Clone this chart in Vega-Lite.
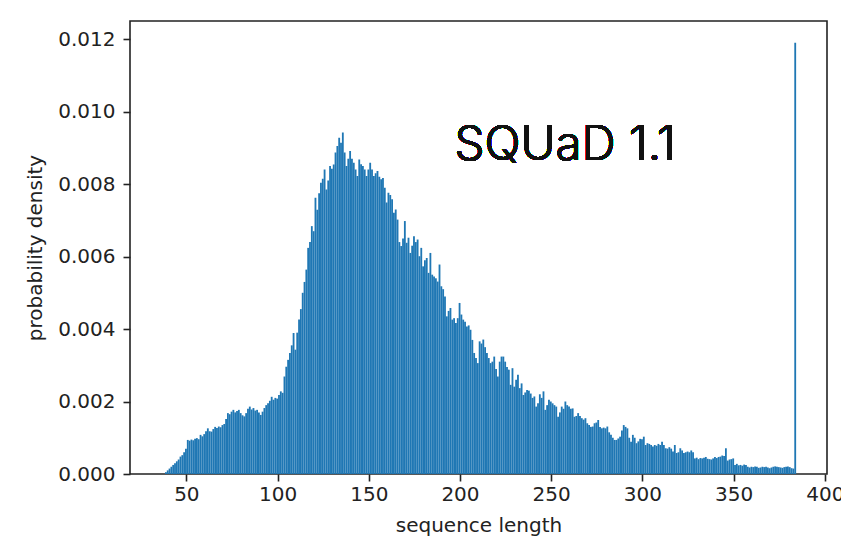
{
  "$schema": "https://vega.github.io/schema/vega-lite/v6.json",
  "width": 697,
  "height": 453,
  "autosize": "none",
  "padding": {"left": 130, "top": 21, "right": 14, "bottom": 78},
  "background": "white",
  "config": {
    "view": {"stroke": "#222", "strokeWidth": 1.6},
    "font": "DejaVu Sans",
    "axis": {
      "grid": false,
      "domain": false,
      "tickColor": "#222",
      "tickSize": 7,
      "tickWidth": 1.6,
      "labelFont": "DejaVu Sans",
      "labelFontSize": 20,
      "labelColor": "#222",
      "titleFont": "DejaVu Sans",
      "titleFontSize": 20,
      "titleFontWeight": "normal",
      "titleColor": "#222"
    }
  },
  "data": {"values": [
{"len":38,"density":0.00005},{"len":39,"density":0.0001},{"len":40,"density":0.00015},{"len":41,"density":0.0002},{"len":42,"density":0.00025},{"len":43,"density":0.0003},{"len":44,"density":0.00035},{"len":45,"density":0.0004},{"len":46,"density":0.00048},{"len":47,"density":0.00052},{"len":48,"density":0.0006},{"len":49,"density":0.0007},
{"len":50,"density":0.00094},{"len":51,"density":0.00092},{"len":52,"density":0.00095},{"len":53,"density":0.00093},{"len":54,"density":0.00097},{"len":55,"density":0.00099},{"len":56,"density":0.00096},{"len":57,"density":0.00108},{"len":58,"density":0.00104},{"len":59,"density":0.0011},
{"len":60,"density":0.00118},{"len":61,"density":0.00126},{"len":62,"density":0.00118},{"len":63,"density":0.00117},{"len":64,"density":0.00124},{"len":65,"density":0.0013},{"len":66,"density":0.00127},{"len":67,"density":0.00131},{"len":68,"density":0.00129},{"len":69,"density":0.00135},
{"len":70,"density":0.00138},{"len":71,"density":0.00152},{"len":72,"density":0.00168},{"len":73,"density":0.00165},{"len":74,"density":0.00172},{"len":75,"density":0.00177},{"len":76,"density":0.0017},{"len":77,"density":0.00174},{"len":78,"density":0.00177},{"len":79,"density":0.00168},
{"len":80,"density":0.00162},{"len":81,"density":0.00159},{"len":82,"density":0.00168},{"len":83,"density":0.0018},{"len":84,"density":0.00186},{"len":85,"density":0.00178},{"len":86,"density":0.00182},{"len":87,"density":0.00175},{"len":88,"density":0.00177},{"len":89,"density":0.0017},
{"len":90,"density":0.00163},{"len":91,"density":0.00172},{"len":92,"density":0.00182},{"len":93,"density":0.0019},{"len":94,"density":0.00195},{"len":95,"density":0.00202},{"len":96,"density":0.00213},{"len":97,"density":0.00205},{"len":98,"density":0.0021},{"len":99,"density":0.00208},
{"len":100,"density":0.00218},{"len":101,"density":0.00228},{"len":102,"density":0.00224},{"len":103,"density":0.00269},{"len":104,"density":0.00296},{"len":105,"density":0.00315},{"len":106,"density":0.00334},{"len":107,"density":0.00355},{"len":108,"density":0.00389},{"len":109,"density":0.00343},
{"len":110,"density":0.0039},{"len":111,"density":0.00426},{"len":112,"density":0.00455},{"len":113,"density":0.005},{"len":114,"density":0.0053},{"len":115,"density":0.00564},{"len":116,"density":0.00624},{"len":117,"density":0.0064},{"len":118,"density":0.00684},{"len":119,"density":0.0067},
{"len":120,"density":0.00762},{"len":121,"density":0.00729},{"len":122,"density":0.00775},{"len":123,"density":0.00804},{"len":124,"density":0.00815},{"len":125,"density":0.0084},{"len":126,"density":0.00785},{"len":127,"density":0.0081},{"len":128,"density":0.0085},{"len":129,"density":0.00842},
{"len":130,"density":0.00854},{"len":131,"density":0.00887},{"len":132,"density":0.00905},{"len":133,"density":0.00928},{"len":134,"density":0.00914},{"len":135,"density":0.00942},{"len":136,"density":0.00887},{"len":137,"density":0.0085},{"len":138,"density":0.0087},{"len":139,"density":0.00891},
{"len":140,"density":0.0087},{"len":141,"density":0.00859},{"len":142,"density":0.0084},{"len":143,"density":0.00822},{"len":144,"density":0.00868},{"len":145,"density":0.00855},{"len":146,"density":0.0085},{"len":147,"density":0.0084},{"len":148,"density":0.00822},{"len":149,"density":0.0084},
{"len":150,"density":0.00859},{"len":151,"density":0.0084},{"len":152,"density":0.00822},{"len":153,"density":0.0083},{"len":154,"density":0.00836},{"len":155,"density":0.0082},{"len":156,"density":0.00813},{"len":157,"density":0.00817},{"len":158,"density":0.0079},{"len":159,"density":0.00749},
{"len":160,"density":0.00776},{"len":161,"density":0.0077},{"len":162,"density":0.00758},{"len":163,"density":0.00721},{"len":164,"density":0.0073},{"len":165,"density":0.00702},{"len":166,"density":0.0064},{"len":167,"density":0.00629},{"len":168,"density":0.0065},{"len":169,"density":0.00698},
{"len":170,"density":0.00638},{"len":171,"density":0.00652},{"len":172,"density":0.0061},{"len":173,"density":0.0063},{"len":174,"density":0.00656},{"len":175,"density":0.0064},{"len":176,"density":0.00647},{"len":177,"density":0.00601},{"len":178,"density":0.00624},{"len":179,"density":0.00573},
{"len":180,"density":0.0059},{"len":181,"density":0.00596},{"len":182,"density":0.00555},{"len":183,"density":0.0061},{"len":184,"density":0.0055},{"len":185,"density":0.00545},{"len":186,"density":0.0054},{"len":187,"density":0.00531},{"len":188,"density":0.00578},{"len":189,"density":0.00518},
{"len":190,"density":0.0051},{"len":191,"density":0.0049},{"len":192,"density":0.00435},{"len":193,"density":0.0045},{"len":194,"density":0.00458},{"len":195,"density":0.00426},{"len":196,"density":0.0043},{"len":197,"density":0.00417},{"len":198,"density":0.0043},{"len":199,"density":0.00472},
{"len":200,"density":0.0044},{"len":201,"density":0.00426},{"len":202,"density":0.0042},{"len":203,"density":0.00407},{"len":204,"density":0.0041},{"len":205,"density":0.00398},{"len":206,"density":0.0037},{"len":207,"density":0.00334},{"len":208,"density":0.0032},{"len":209,"density":0.00306},
{"len":210,"density":0.00366},{"len":211,"density":0.0036},{"len":212,"density":0.00371},{"len":213,"density":0.0035},{"len":214,"density":0.00334},{"len":215,"density":0.0032},{"len":216,"density":0.00306},{"len":217,"density":0.0031},{"len":218,"density":0.00324},{"len":219,"density":0.0029},
{"len":220,"density":0.00269},{"len":221,"density":0.0031},{"len":222,"density":0.00324},{"len":223,"density":0.00324},{"len":224,"density":0.0031},{"len":225,"density":0.00295},{"len":226,"density":0.00288},{"len":227,"density":0.00246},{"len":228,"density":0.00292},{"len":229,"density":0.00241},
{"len":230,"density":0.0026},{"len":231,"density":0.00274},{"len":232,"density":0.00237},{"len":233,"density":0.0025},{"len":234,"density":0.00218},{"len":235,"density":0.00225},{"len":236,"density":0.00232},{"len":237,"density":0.0023},{"len":238,"density":0.00222},{"len":239,"density":0.0021},
{"len":240,"density":0.00214},{"len":241,"density":0.00186},{"len":242,"density":0.00195},{"len":243,"density":0.0022},{"len":244,"density":0.0021},{"len":245,"density":0.00228},{"len":246,"density":0.00177},{"len":247,"density":0.0019},{"len":248,"density":0.00205},{"len":249,"density":0.002},
{"len":250,"density":0.00195},{"len":251,"density":0.0019},{"len":252,"density":0.00186},{"len":253,"density":0.00158},{"len":254,"density":0.0017},{"len":255,"density":0.00186},{"len":256,"density":0.0018},{"len":257,"density":0.002},{"len":258,"density":0.0019},{"len":259,"density":0.00186},
{"len":260,"density":0.0018},{"len":261,"density":0.00181},{"len":262,"density":0.00158},{"len":263,"density":0.0016},{"len":264,"density":0.00168},{"len":265,"density":0.0016},{"len":266,"density":0.00154},{"len":267,"density":0.0015},{"len":268,"density":0.00154},{"len":269,"density":0.0014},
{"len":270,"density":0.00135},{"len":271,"density":0.0013},{"len":272,"density":0.00131},{"len":273,"density":0.0014},{"len":274,"density":0.00142},{"len":275,"density":0.00149},{"len":276,"density":0.0013},{"len":277,"density":0.00126},{"len":278,"density":0.00128},{"len":279,"density":0.00126},
{"len":280,"density":0.00131},{"len":281,"density":0.00115},{"len":282,"density":0.00108},{"len":283,"density":0.001},{"len":284,"density":0.00094},{"len":285,"density":0.00094},{"len":286,"density":0.00098},{"len":287,"density":0.00103},{"len":288,"density":0.0012},{"len":289,"density":0.00135},
{"len":290,"density":0.0013},{"len":291,"density":0.00126},{"len":292,"density":0.001},{"len":293,"density":0.00089},{"len":294,"density":0.00108},{"len":295,"density":0.001},{"len":296,"density":0.00085},{"len":297,"density":0.0009},{"len":298,"density":0.00097},{"len":299,"density":0.00096},
{"len":300,"density":0.00103},{"len":301,"density":0.0008},{"len":302,"density":0.00085},{"len":303,"density":0.00083},{"len":304,"density":0.0008},{"len":305,"density":0.00076},{"len":306,"density":0.0008},{"len":307,"density":0.00078},{"len":308,"density":0.00083},{"len":309,"density":0.0008},
{"len":310,"density":0.00089},{"len":311,"density":0.0008},{"len":312,"density":0.00071},{"len":313,"density":0.0007},{"len":314,"density":0.00074},{"len":315,"density":0.0007},{"len":316,"density":0.00062},{"len":317,"density":0.0008},{"len":318,"density":0.00058},{"len":319,"density":0.0006},
{"len":320,"density":0.00071},{"len":321,"density":0.00065},{"len":322,"density":0.00058},{"len":323,"density":0.0006},{"len":324,"density":0.00062},{"len":325,"density":0.0006},{"len":326,"density":0.00065},{"len":327,"density":0.0006},{"len":328,"density":0.00043},{"len":329,"density":0.00045},
{"len":330,"density":0.00041},{"len":331,"density":0.00044},{"len":332,"density":0.00043},{"len":333,"density":0.00045},{"len":334,"density":0.00047},{"len":335,"density":0.00042},{"len":336,"density":0.00041},{"len":337,"density":0.0004},{"len":338,"density":0.00043},{"len":339,"density":0.00047},
{"len":340,"density":0.00044},{"len":341,"density":0.00047},{"len":342,"density":0.00048},{"len":343,"density":0.00051},{"len":344,"density":0.0005},{"len":345,"density":0.00071},{"len":346,"density":0.00037},{"len":347,"density":0.0004},{"len":348,"density":0.00041},{"len":349,"density":0.00043},
{"len":350,"density":0.00025},{"len":351,"density":0.00028},{"len":352,"density":0.00024},{"len":353,"density":0.00025},{"len":354,"density":0.00023},{"len":355,"density":0.00026},{"len":356,"density":0.00025},{"len":357,"density":0.0002},{"len":358,"density":0.00018},{"len":359,"density":0.0002},
{"len":360,"density":0.00019},{"len":361,"density":0.00021},{"len":362,"density":0.0002},{"len":363,"density":0.00017},{"len":364,"density":0.00018},{"len":365,"density":0.0002},{"len":366,"density":0.00019},{"len":367,"density":0.0002},{"len":368,"density":0.00018},{"len":369,"density":0.00016},
{"len":370,"density":0.00018},{"len":371,"density":0.0002},{"len":372,"density":0.00021},{"len":373,"density":0.0002},{"len":374,"density":0.00019},{"len":375,"density":0.00018},{"len":376,"density":0.00017},{"len":377,"density":0.00019},{"len":378,"density":0.0002},{"len":379,"density":0.00021},
{"len":380,"density":0.00019},{"len":381,"density":0.00016},{"len":382,"density":0.00015},{"len":383,"density":0.0119}
  ]},
  "layer": [
    {
      "mark": {"type": "bar", "color": "#1f77b4", "binSpacing": 0, "clip": true},
      "encoding": {
        "x": {
          "field": "len",
          "type": "quantitative",
          "bin": {"binned": true, "step": 1},
          "scale": {"domain": [19.1, 401.2], "nice": false, "zero": false},
          "axis": {"values": [50, 100, 150, 200, 250, 300, 350, 400], "title": "sequence length", "labelPadding": 3, "titlePadding": 11, "labelFlush": false}
        },
        "y": {
          "field": "density",
          "type": "quantitative",
          "scale": {"domain": [0, 0.0125], "nice": false},
          "axis": {"values": [0, 0.002, 0.004, 0.006, 0.008, 0.010, 0.012], "format": ".3f", "title": "probability density", "labelPadding": 8, "titlePadding": 12}
        }
      }
    },
    {
      "mark": {"type": "text", "font": "Inter", "fontSize": 47.5, "fontWeight": 300, "color": "#111", "align": "center", "baseline": "alphabetic"},
      "encoding": {
        "x": {"datum": 257.6, "type": "quantitative"},
        "y": {"datum": 0.00867, "type": "quantitative"},
        "text": {"value": "SQUaD 1.1"}
      }
    }
  ]
}
